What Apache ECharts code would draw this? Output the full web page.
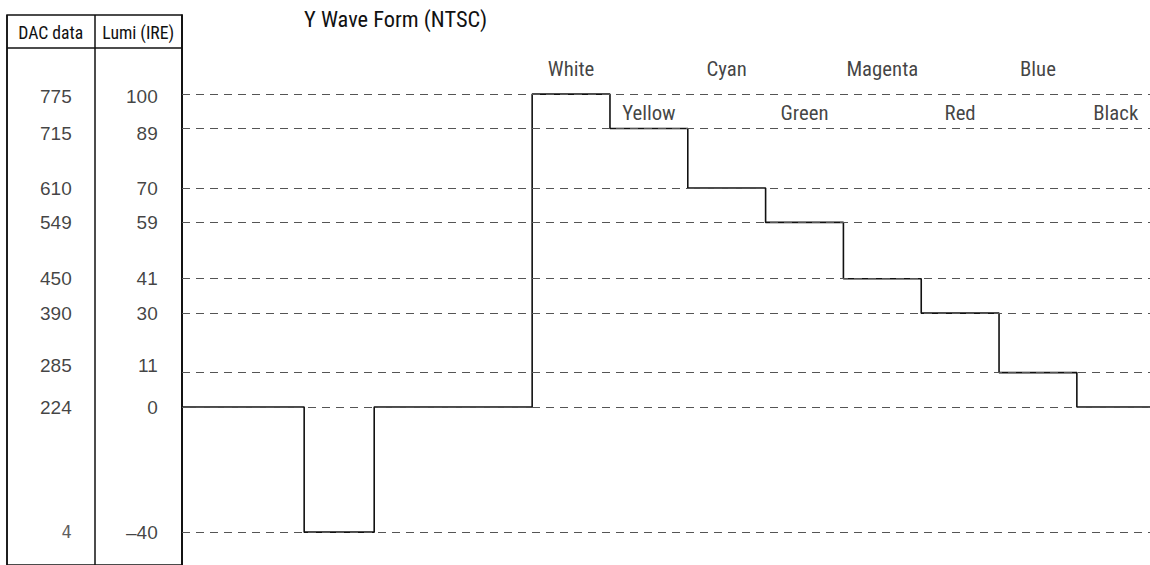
<!DOCTYPE html>
<html>
<head>
<meta charset="utf-8">
<script src="https://cdn.jsdelivr.net/npm/echarts@6/dist/echarts.min.js"></script>
<style>
html, body { margin: 0; padding: 0; background: #fff; }
#chart { width: 1150px; height: 565px; }
</style>
</head>
<body>
<div id="chart"></div>
<script>
// ---------------- data ----------------
const tableHeaders = ['DAC data', 'Lumi (IRE)'];
const lumiLevels   = [100, 89, 70, 59, 41, 30, 11, 0, -40];
const dacLabels    = ['775', '715', '610', '549', '450', '390', '285', '224', '4'];
const lumiLabels   = ['100', '89', '70', '59', '41', '30', '11', '0', '\u201340'];

// Y waveform: segment edges (time, 10 units per colour bar) and the level held on each segment
const waveEdges  = [0, 15.7, 24.7, 45, 55, 65, 75, 85, 95, 105, 115, 125];
const waveLevels = [0, -40, 0, 100, 89, 70, 59, 41, 30, 11, 0];
const barNames   = ['White', 'Yellow', 'Cyan', 'Green', 'Magenta', 'Red', 'Blue', 'Black'];
const firstBarSegment = 3; // index in waveLevels where the colour bars start

// ---------------- layout / style ----------------
const Y_MIN = -50.5, Y_MAX = 125.3;
const X_MIN = 0, X_MAX = 124.4;
const LABEL_ROWS = [108.1, 93.9];              // upper / lower row of bar names (axis units)
const ROW_NUDGE = { 100: 2, 89: 5, 11: -7 };   // small vertical offsets (px) of table rows
const REGULAR = "'Liberation Sans', Arial, sans-serif";
const INK = '#111';

// pick a condensed face that is installed, and size it to the reference text widths
const ctx = document.createElement('canvas').getContext('2d');
function installed(f) {
  const probe = 'mmmmWWWlli 0123 Magenta';
  for (const base of ['monospace', 'serif']) {
    ctx.font = '40px ' + base; const a = ctx.measureText(probe).width;
    ctx.font = "40px '" + f + "', " + base; const b = ctx.measureText(probe).width;
    if (Math.abs(a - b) > 0.5) return true;
  }
  return false;
}
const candidates = ['Liberation Sans Narrow', 'Roboto Condensed', 'Open Sans Condensed', 'DejaVu Sans Condensed', 'Liberation Sans'];
const condensed = candidates.find(installed) || 'sans-serif';
const NARROW = "'" + condensed + "', sans-serif";
function fitSize(pairs) {
  let s = 0;
  pairs.forEach(([t, w]) => { ctx.font = '100px ' + NARROW; s += 100 * w / ctx.measureText(t).width; });
  return Math.round(s / pairs.length * 10) / 10;
}
const TITLE_SIZE  = fitSize([['Y Wave Form (NTSC)', 183]]);
const BAR_SIZE    = fitSize([['White', 48], ['Yellow', 56], ['Magenta', 66]]);
const HEADER_SIZE = fitSize([['DAC data', 62], ['Lumi (IRE)', 75]]);

// build waveform corner points
const wavePoints = [];
for (let i = 0; i < waveLevels.length; i++) {
  wavePoints.push([waveEdges[i], waveLevels[i]]);
  wavePoints.push([waveEdges[i + 1], waveLevels[i]]);
}
// bar-name label points (centre of each bar)
const barLabelData = barNames.map((n, k) => {
  const s = firstBarSegment + k;
  return { name: n, value: [(waveEdges[s] + waveEdges[s + 1]) / 2, LABEL_ROWS[k % 2]] };
});

function tableCol(colIdx, texts, offsetX) {
  return texts.map((t, i) => {
    const lv = lumiLevels[i];
    const item = {
      value: [colIdx, lv],
      label: { formatter: t, offset: [offsetX, ROW_NUDGE[lv] || 0] }
    };
    if (colIdx === 0 && t === '4') {
      item.label.fontFamily = "'DejaVu Sans Mono', monospace";
      item.label.fontSize = 17;
      item.label.color = '#333';
    }
    return item;
  });
}

const chart = echarts.init(document.getElementById('chart'), null, { renderer: 'svg' });
chart.setOption({
  animation: false,
  backgroundColor: '#fff',
  title: {
    text: 'Y Wave Form (NTSC)',
    left: 299, top: 3,
    textStyle: { fontSize: TITLE_SIZE, fontWeight: 'normal', fontFamily: NARROW, color: INK }
  },
  grid: [
    { left: 182, right: 0, top: 15, bottom: -2, containLabel: false },
    { left: 7, width: 175, top: 15, bottom: -2, show: true, borderColor: INK, borderWidth: 1.5, backgroundColor: 'transparent' }
  ],
  xAxis: [
    { gridIndex: 0, type: 'value', min: X_MIN, max: X_MAX, show: false },
    {
      gridIndex: 1, type: 'category', data: tableHeaders, position: 'top', boundaryGap: true,
      axisLine: { show: false }, axisTick: { show: false, interval: 0 },
      axisLabel: { inside: true, interval: 0, margin: 9, fontSize: HEADER_SIZE, fontFamily: NARROW, color: INK },
      splitLine: { show: true, interval: 0, lineStyle: { color: INK, width: 1.5 } }
    }
  ],
  yAxis: [
    {
      gridIndex: 0, type: 'value', min: Y_MIN, max: Y_MAX,
      axisLine: { show: true, lineStyle: { color: INK, width: 1.5 } },
      axisTick: { show: false }, axisLabel: { show: false }, splitLine: { show: false }
    },
    { gridIndex: 1, type: 'value', min: Y_MIN, max: Y_MAX, show: false, splitLine: { show: false } }
  ],
  graphic: [
    { type: 'line', shape: { x1: 7, y1: 48, x2: 182, y2: 48 }, style: { stroke: INK, lineWidth: 1.5 }, silent: true }
  ],
  series: [
    {
      type: 'line', xAxisIndex: 0, yAxisIndex: 0, data: [], z: 1, silent: true,
      markLine: {
        silent: true, symbol: ['none', 'none'], animation: false,
        label: { show: false },
        lineStyle: { type: [8, 6], color: '#555', width: 1 },
        data: lumiLevels.map(v => ({ yAxis: v }))
      }
    },
    {
      type: 'line', xAxisIndex: 0, yAxisIndex: 0, data: wavePoints, z: 3,
      showSymbol: false, symbol: 'none', clip: true, silent: true,
      lineStyle: { color: INK, width: 1.6 }
    },
    {
      type: 'scatter', xAxisIndex: 0, yAxisIndex: 0, data: barLabelData, z: 4,
      symbolSize: 1, itemStyle: { color: 'transparent' }, silent: true,
      label: { show: true, position: 'inside', formatter: '{b}', fontSize: BAR_SIZE, fontFamily: NARROW, color: INK }
    },
    {
      type: 'scatter', xAxisIndex: 1, yAxisIndex: 1, data: tableCol(0, dacLabels, 21), z: 4,
      symbolSize: 1, itemStyle: { color: 'transparent' }, silent: true,
      label: { show: true, position: 'inside', align: 'right', fontSize: 19, fontFamily: REGULAR, color: INK }
    },
    {
      type: 'scatter', xAxisIndex: 1, yAxisIndex: 1, data: tableCol(1, lumiLabels, 19.5), z: 4,
      symbolSize: 1, itemStyle: { color: 'transparent' }, silent: true,
      label: { show: true, position: 'inside', align: 'right', fontSize: 19, fontFamily: REGULAR, color: INK }
    }
  ]
});
</script>
</body>
</html>
